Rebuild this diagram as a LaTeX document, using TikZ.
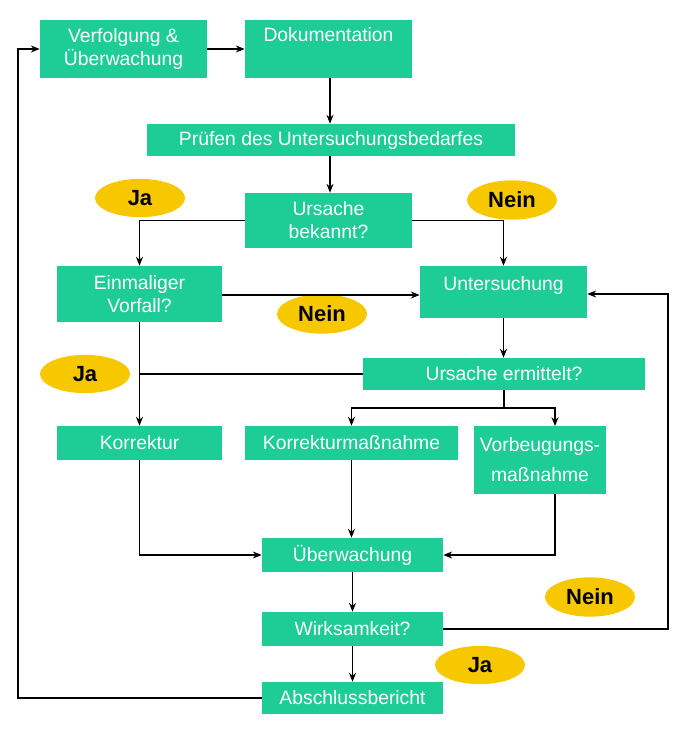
\documentclass[tikz,border=0pt]{standalone}
\usepackage{fontspec}
\setmainfont{Liberation Sans}
\usetikzlibrary{arrows.meta,shapes.geometric}
\definecolor{gr}{RGB}{30,204,150}
\definecolor{yl}{RGB}{247,200,0}
\tikzset{
 bx/.style={fill=gr,draw=none,text=white,font=\fontsize{11}{13}\selectfont,align=center,inner sep=0},
 el/.style={ellipse,fill=yl,draw=none,font=\bfseries\fontsize{12.5}{14}\selectfont,minimum width=1.8cm,minimum height=0.72cm},
 ar/.style={-{Stealth[length=5pt,width=4pt]},line width=0.7pt},
 ln/.style={line width=0.7pt}
}
\begin{document}
\begin{tikzpicture}[x=0.02cm,y=-0.02cm]
\useasboundingbox (0,0) rectangle (684,738);
\newcommand{\bxx}[6]{\node[bx,minimum width=#4*0.02cm-#2*0.02cm,minimum height=#5*0.02cm-#3*0.02cm] (#1) at ({(#2+#4)/2},{(#3+#5)/2}) {#6};}
\bxx{v}{40}{20}{207}{78}{Verfolgung \&\\Überwachung}
\bxx{d}{245}{20}{412}{78}{}
\node[text=white,font=\fontsize{11}{13}\selectfont] at (328.5,35) {Dokumentation};
\bxx{p}{147}{124}{515}{156}{Prüfen des Untersuchungsbedarfes}
\bxx{u}{245}{193}{412}{248}{Ursache\\bekannt?}
\bxx{e}{57}{266}{222}{322}{Einmaliger\\Vorfall?}
\bxx{un}{420}{266}{587}{318}{}
\node[text=white,font=\fontsize{11}{13}\selectfont] at (503.5,285) {Untersuchung};
\bxx{ue}{363}{358}{645}{390}{Ursache ermittelt?}
\bxx{k}{57}{426}{222}{460}{Korrektur}
\bxx{km}{245}{426}{458}{460}{Korrekturmaßnahme}
\bxx{vm}{474}{426}{606}{494}{Vorbeugungs-\\[4pt]maßnahme}
\bxx{ub}{262}{538}{443}{572}{Überwachung}
\bxx{w}{262}{612}{443}{646}{Wirksamkeit?}
\bxx{a}{262}{682}{443}{714}{Abschlussbericht}
\node[el] (j1) at (140,198) {Ja};
\node[el] (n1) at (512,200) {Nein};
\node[el] (n2) at (322,314) {Nein};
\node[el] (j2) at (85,374) {Ja};
\node[el] (n3) at (590,597) {Nein};
\node[el] (j3) at (480,665) {Ja};
\coordinate (c1) at (140,374);
\coordinate (c2) at (504,408);
\draw[ar] (v.east) -- (d.west);
\draw[ar] (d.south -| 330,0) -- (p.north -| 330,0);
\draw[ar] (p.south -| 330,0) -- (u.north -| 330,0);
\draw[ar] (u.west) -| (e.north);
\draw[ar] (u.east) -| (un.north);
\draw[ar] (e.east |- 0,295) -- (un.west |- 0,295);
\draw[ar] (un.south) -- (ue.north -| un.south);
\draw[ar] (e.south) -- (k.north);
\draw[ln] (ue.west) -- (c1);
\draw[ln] (ue.south -| c2) -- (c2);
\draw[ar] (c2) -| (km.north);
\draw[ar] (c2) -| (555,426);
\draw[ar] (k.south) |- (ub.west);
\draw[ar] (km.south) -- (km.south |- ub.north);
\draw[ar] (vm.south -| 555,0) |- (ub.east);
\draw[ar] (ub.south) -- (w.north);
\draw[ar] (w.south) -- (a.north);
\draw[ar] (w.east) -- (668,629) |- (un.east |- 0,294);
\draw[ar] (a.west) -- (18,698) |- (v.west);
\end{tikzpicture}
\end{document}
